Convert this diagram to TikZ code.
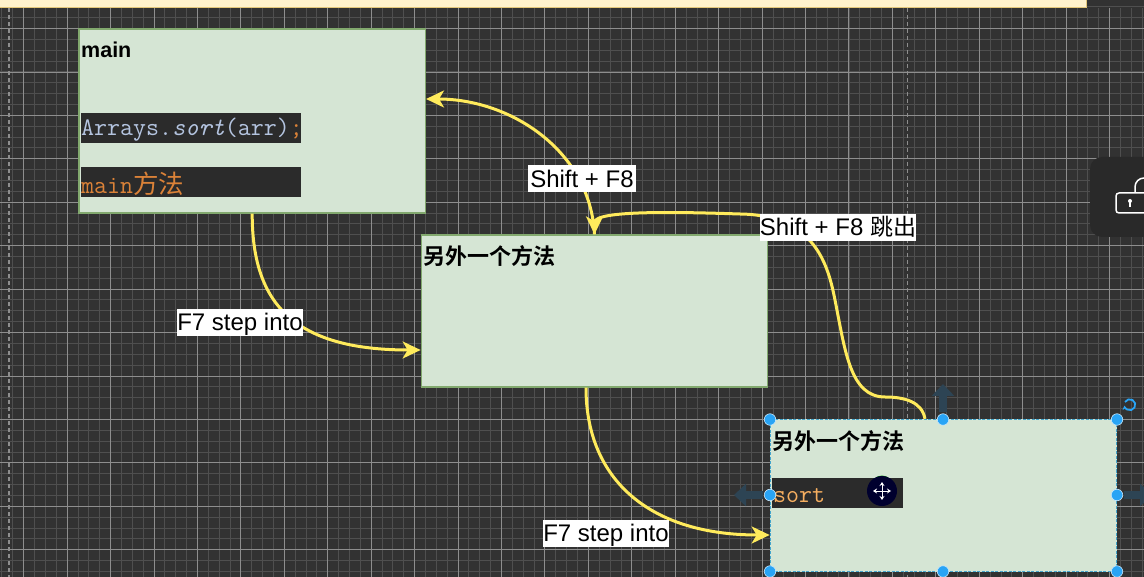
\documentclass[tikz,border=0pt]{standalone}
\usepackage{fontspec}
\setmainfont{Liberation Sans}
\newfontfamily\cjk{Noto Sans CJK SC}
\newfontfamily\cjkb{Noto Sans CJK SC Bold}
\usetikzlibrary{arrows.meta}
\definecolor{bgc}{HTML}{323232}
\definecolor{minorc}{HTML}{4F4F4F}
\definecolor{majorc}{HTML}{8E8E8E}
\definecolor{bannerf}{HTML}{FFF2CC}
\definecolor{bannerd}{HTML}{E3C77A}
\definecolor{boxf}{HTML}{D5E5D4}
\definecolor{boxd}{HTML}{82A96E}
\definecolor{codebg}{HTML}{2B2B2B}
\definecolor{codegrey}{HTML}{B4C4E0}
\definecolor{codeor}{HTML}{DB8238}
\definecolor{sortc}{HTML}{F5AE60}
\definecolor{edgec}{HTML}{FFEB5C}
\definecolor{handle}{HTML}{29A4F5}
\definecolor{ghost}{HTML}{2D4454}
\definecolor{panel}{HTML}{292929}
\tikzset{
  x=1pt,y=-1pt,
  greenbox/.style={draw=boxd,fill=boxf,line width=1.2pt,inner sep=0pt,minimum width=346.5pt,minimum height=152pt},
  title/.style={anchor=west,inner sep=0pt,text=black,font=\fontsize{22}{22}\selectfont},
  codebar/.style={fill=codebg,inner sep=0pt,minimum height=30pt,anchor=west,text depth=0pt},
  codetext/.style={anchor=west,inner sep=0pt,font=\fontsize{25.2}{25}\ttfamily},
  flow/.style={draw=edgec,line width=3pt,-{Stealth[length=18pt,width=17pt,inset=5pt]}},
  lbl/.style={fill=white,text=black,inner sep=0pt,font=\fontsize{24}{24}\selectfont,text height=22pt,text depth=5pt},
  hnd/.style={circle,fill=handle,draw=white!75!handle,line width=.6pt,minimum size=11.5pt,inner sep=0pt},
  ghostarrow/.style={draw=ghost,line width=8pt,-{Triangle[length=12pt,width=22pt]}},
}
\begin{document}
\begin{tikzpicture}
\useasboundingbox (0,0) rectangle (1144,577);
\clip (0,0) rectangle (1144,577);
\fill[bgc] (0,0) rectangle (1144,577);
% grid
\foreach \i in {0,...,110}{
  \draw[minorc,line width=1pt] ({23.7-21.72+\i*10.86},8) -- ++(0,569);
}
\foreach \i in {0,...,52}{
  \draw[minorc,line width=1pt] (0,{28.5-21.72+\i*10.86}) -- ++(1144,0);
}
\foreach \i in {0,...,26}{
  \draw[majorc,line width=.8pt] ({23.7+\i*43.43},8) -- ++(0,569);
}
\foreach \i in {0,...,13}{
  \draw[majorc,line width=.8pt] (0,{28.5+\i*43.43}) -- ++(1144,0);
}
\draw[majorc,line width=1.2pt,dash pattern=on 4pt off 3pt] (9,8) -- (9,577);
\draw[majorc,line width=1.2pt,dash pattern=on 4pt off 3pt] (907.7,8) -- (907.7,577);
% banner
\fill[bannerf] (0,0) rectangle (1086,7.5);
\draw[bannerd,line width=1pt] (0,7.5) -- (1086,7.5) -- (1086,0);
% lock panel
\fill[panel,rounded corners=12pt] (1090,157) rectangle (1170,237);
\draw[white,line width=1.5pt,rounded corners=3pt] (1116,193) rectangle (1150,213);
\draw[white,line width=1.5pt] (1135,193) -- (1135,187) arc[start angle=180,end angle=40,radius=9pt];
\fill[white] (1130,201) circle[radius=2pt];
\fill[white] (1129.4,201) rectangle (1130.6,207);
% boxes
\node[greenbox,minimum height=184pt] (main) at (252.2,121) {};
\node[greenbox] (box2) at (594.5,311) {};
\node[greenbox,draw=handle!70!boxd,dash pattern=on 3pt off 1.5pt] (box3) at (943.5,495.5) {};
% titles
\node[title,font=\fontsize{21.5}{22}\bfseries\selectfont] (t1) at (81,50) {main};
\node[title] (t2) at (423,256) {\cjkb 另外一个方法};
\node[title] (t3) at (772.5,441) {\cjkb 另外一个方法};
% code bars
\node[codebar,minimum width=220pt] (c1) at (81,128) {};
\node[codebar,minimum width=220pt] (c2) at (81,182) {};
\node[codebar,minimum width=131pt] (c3) at (772,493) {};
\node[codetext,text=codegrey] (c1t) at (81,130) {Arrays.{\itshape sort}(arr)\textcolor{codeor}{;}};
\node[codetext,text=codeor] (c2t) at (81,184) {main{\fontsize{25.5}{25}\cjk 方法}};
\node[codetext,text=sortc] (c3t) at (773,496) {sort};
% connectors
\coordinate (e1) at ([yshift=-39pt]box2.west);
\coordinate (e2) at ([yshift=22pt]main.east);
\coordinate (e4s) at ([xshift=-8.5pt]box2.south);
\coordinate (e4) at ([yshift=-39.5pt]box3.west);
\coordinate (e3s) at ([xshift=-18.5pt]box3.north);
\draw[flow] (main.south) .. controls (252,300) and (290,350) .. (e1);
\draw[flow] (box2.north) .. controls (590,150) and (510,99) .. (e2);
\draw[flow] (e4s) .. controls (586,480) and (650,535) .. (e4);
\draw[flow] (e3s) .. controls (922,402) and (905,397) .. (885,397)
  .. controls (850,397) and (845,350) .. (835,300)
  .. controls (828,265) and (815,215) .. (740,214)
  .. controls (680,212) and (594.5,210) .. (box2.north);
% labels
\node[lbl,minimum width=124pt] (l1) at (240,322.5) {F7 step into};
\node[lbl,minimum width=108pt] (l2) at (582,179) {Shift + F8};
\node[lbl,minimum width=156pt] (l3) at (838,227.5) {Shift + F8 {\fontsize{23}{24}\cjk 跳出}};
\node[lbl,minimum width=124pt] (l4) at (606,533) {F7 step into};
% ghost arrows
\draw[ghostarrow] (943,412) -- (943,384);
\draw[ghostarrow] (763,495) -- (734,495);
\draw[ghostarrow] (1124,495) -- (1152,495);
% selection handles
\node[hnd] (h1) at (770,419.5) {};
\node[hnd] (h2) at (943,419.5) {};
\node[hnd] (h3) at (1117,419.5) {};
\node[hnd] (h4) at (770,495) {};
\node[hnd] (h5) at (1117,495) {};
\node[hnd] (h6) at (770,571.5) {};
\node[hnd] (h7) at (943,571.5) {};
\node[hnd] (h8) at (1117,571.5) {};
% rotate icon
\draw[handle,line width=1.8pt,-{Stealth[length=4pt,width=5pt]}] (1125,402) arc[start angle=150,end angle=-170,radius=5.5pt];
% move cursor
\fill[green!60!black] (882,486.5) circle[radius=11pt];
\fill[black!40!blue!30!black] (882,491) circle[radius=15pt];
\draw[white,line width=1pt,{Stealth[length=4pt,width=5pt]}-{Stealth[length=4pt,width=5pt]}] (873,491) -- (891,491);
\draw[white,line width=1pt,{Stealth[length=4pt,width=5pt]}-{Stealth[length=4pt,width=5pt]}] (882,482) -- (882,500);
\end{tikzpicture}
\end{document}
